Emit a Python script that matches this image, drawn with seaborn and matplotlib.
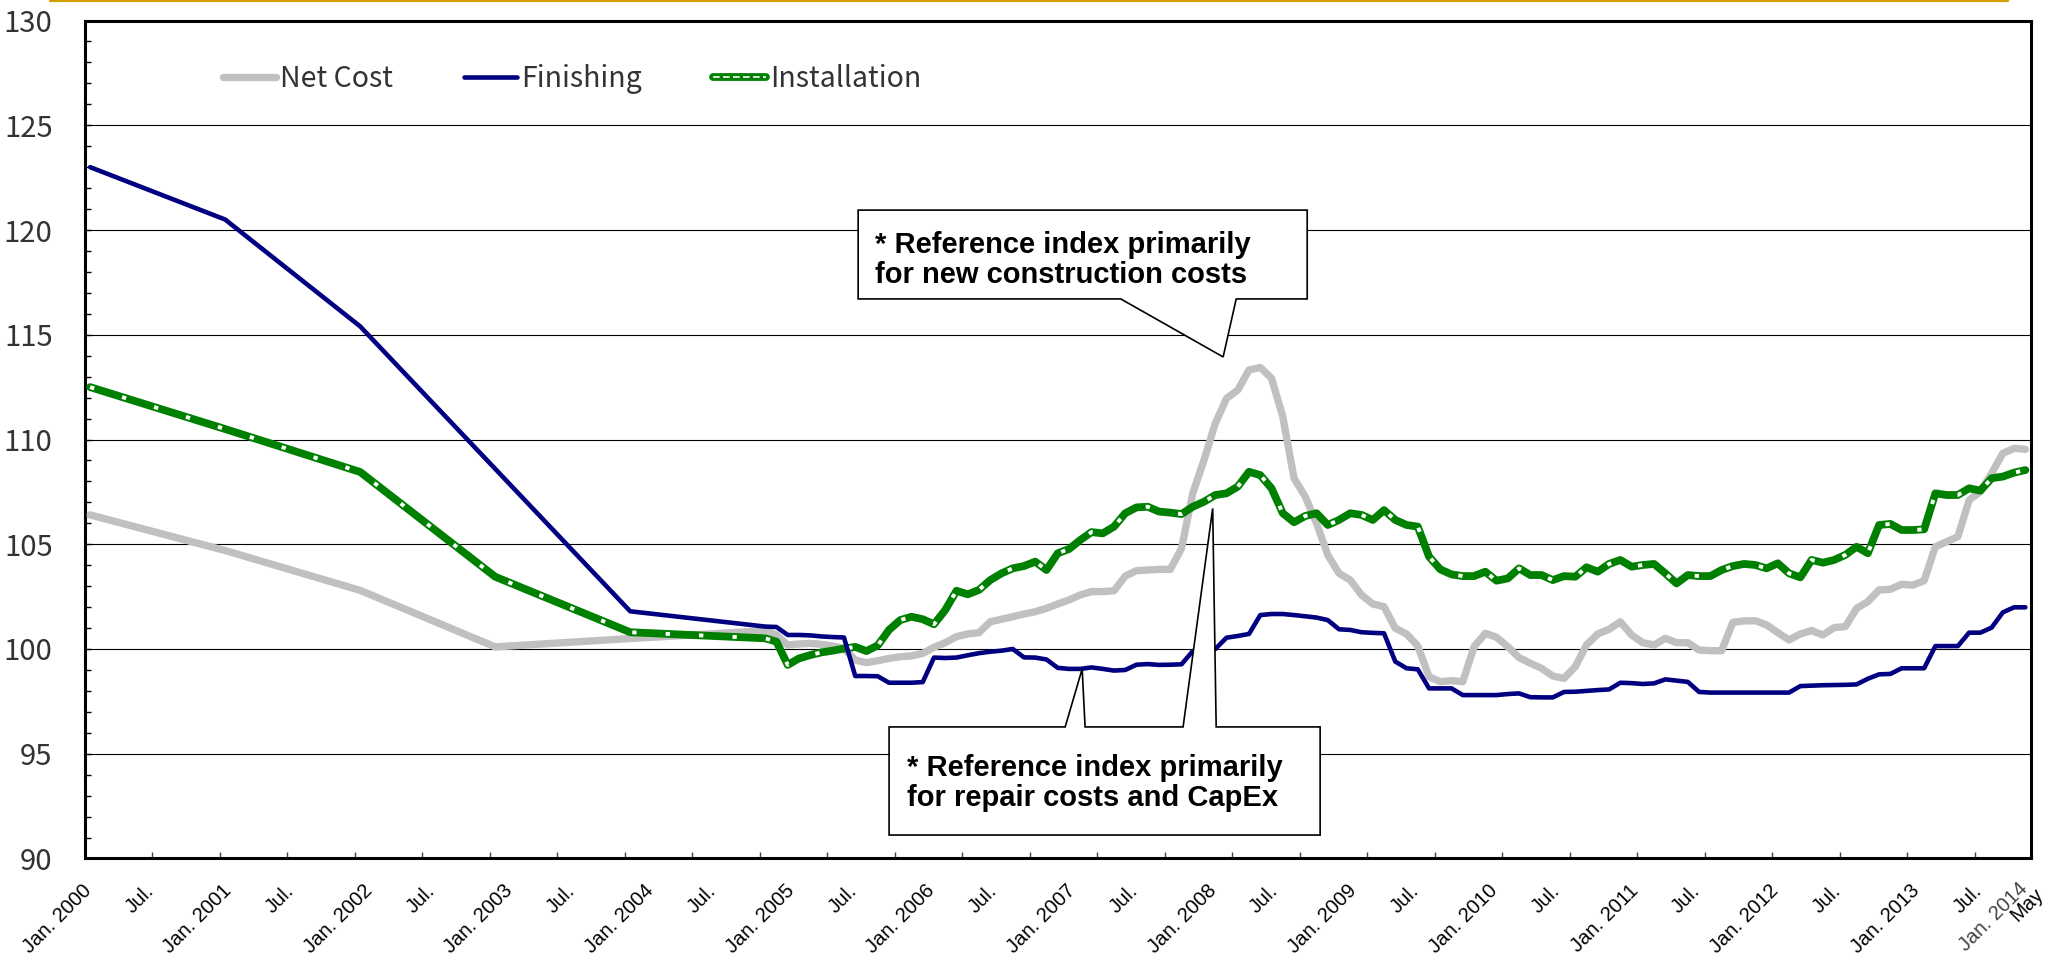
import numpy as np
import pandas as pd
import matplotlib
matplotlib.use("Agg")
import matplotlib.pyplot as plt
import seaborn as sns
from matplotlib.lines import Line2D
from matplotlib.patches import Polygon
from matplotlib.transforms import ScaledTranslation
from matplotlib.ticker import MultipleLocator
from matplotlib.font_manager import FontProperties
from matplotlib.legend_handler import HandlerTuple

# ---------------------------------------------------------------- data
# January readings, 2000-2004 (annual series)
annual_years = [2000, 2001, 2002, 2003, 2004]
annual_net = [106.4, 104.7, 102.8, 100.1, 100.5]
annual_fin = [123.0, 120.5, 115.4, 108.6, 101.8]
annual_inst = [112.5, 110.5, 108.45, 103.45, 100.8]

# monthly readings, Jan 2005 - May 2014
monthly_start = "2005-01"
monthly_net = [
    100.87, 100.67, 100.19, 100.24, 100.27, 100.22, 100.14, 100.03, 99.47, 99.35, 99.44, 99.55,
    99.63, 99.67, 99.79, 100.08, 100.30, 100.59, 100.72, 100.78, 101.30, 101.42, 101.54, 101.67,
    101.78, 101.94, 102.15, 102.34, 102.58, 102.74, 102.74, 102.78, 103.48, 103.74, 103.77, 103.80,
    103.80, 104.80, 107.43, 109.02, 110.77, 111.96, 112.36, 113.32, 113.44, 112.92, 111.09, 108.15,
    107.27, 106.00, 104.49, 103.61, 103.29, 102.58, 102.15, 102.02, 100.99, 100.72, 100.14, 98.68,
    98.44, 98.49, 98.44, 100.11, 100.75, 100.56, 100.11, 99.59, 99.32, 99.08, 98.71, 98.60,
    99.16, 100.20, 100.72, 100.94, 101.30, 100.67, 100.30, 100.19, 100.51, 100.30, 100.30, 99.95,
    99.92, 99.92, 101.27, 101.34, 101.35, 101.15, 100.78, 100.43, 100.72, 100.88, 100.67, 101.02,
    101.07, 101.94, 102.26, 102.82, 102.85, 103.09, 103.05, 103.26, 104.88, 105.12, 105.36, 107.11,
    107.51, 108.39, 109.34, 109.58, 109.53,
]
monthly_fin = [
    101.07, 101.05, 100.67, 100.67, 100.65, 100.60, 100.57, 100.55, 98.71, 98.71, 98.70, 98.39,
    98.39, 98.39, 98.42, 99.59, 99.57, 99.59, 99.70, 99.80, 99.87, 99.92, 100.00, 99.60,
    99.59, 99.50, 99.10, 99.05, 99.05, 99.12, 99.05, 98.97, 99.00, 99.25, 99.28, 99.24,
    99.25, 99.27, 99.90, 100.00, 100.00, 100.54, 100.62, 100.72, 101.62, 101.67, 101.67, 101.62,
    101.56, 101.50, 101.38, 100.94, 100.91, 100.80, 100.77, 100.75, 99.40, 99.08, 99.03, 98.12,
    98.12, 98.12, 97.80, 97.80, 97.80, 97.80, 97.85, 97.88, 97.70, 97.69, 97.69, 97.95,
    97.96, 98.00, 98.04, 98.07, 98.39, 98.37, 98.33, 98.36, 98.55, 98.49, 98.43, 97.95,
    97.92, 97.92, 97.92, 97.92, 97.92, 97.92, 97.92, 97.92, 98.23, 98.25, 98.27, 98.28,
    98.29, 98.31, 98.58, 98.79, 98.81, 99.08, 99.08, 99.08, 100.14, 100.14, 100.14, 100.78,
    100.78, 101.02, 101.75, 101.99, 101.99,
]
monthly_inst = [
    100.51, 100.35, 99.24, 99.55, 99.71, 99.84, 99.92, 100.02, 100.10, 99.90, 100.17, 100.91,
    101.38, 101.54, 101.42, 101.18, 101.86, 102.78, 102.61, 102.82, 103.29, 103.61, 103.85, 103.96,
    104.17, 103.77, 104.57, 104.77, 105.20, 105.58, 105.52, 105.84, 106.48, 106.76, 106.79, 106.56,
    106.51, 106.44, 106.79, 107.03, 107.35, 107.43, 107.75, 108.46, 108.30, 107.67, 106.48, 106.05,
    106.35, 106.48, 105.92, 106.16, 106.48, 106.40, 106.16, 106.63, 106.16, 105.92, 105.84, 104.41,
    103.80, 103.56, 103.48, 103.48, 103.69, 103.26, 103.37, 103.85, 103.53, 103.53, 103.29, 103.48,
    103.45, 103.90, 103.69, 104.06, 104.25, 103.93, 104.01, 104.06, 103.61, 103.13, 103.53, 103.48,
    103.48, 103.77, 103.96, 104.06, 104.01, 103.85, 104.09, 103.61, 103.42, 104.25, 104.12, 104.25,
    104.49, 104.88, 104.57, 105.92, 105.97, 105.68, 105.68, 105.71, 107.43, 107.35, 107.35, 107.67,
    107.56, 108.15, 108.23, 108.42, 108.54,
]

series_names = ["Net Cost", "Finishing", "Installation"]

# ---------------------------------------------------------------- frame
dates = list(pd.to_datetime([f"{y}-01-01" for y in annual_years])) + \
    list(pd.date_range(monthly_start, periods=len(monthly_net), freq="MS"))
df = pd.DataFrame({
    "date": dates,
    "Net Cost": annual_net + monthly_net,
    "Finishing": annual_fin + monthly_fin,
    "Installation": annual_inst + monthly_inst,
})
# month slots counted from Jan 2000; each value sits in the middle of its slot
df["slot"] = (df["date"].dt.year - 2000) * 12 + df["date"].dt.month - 1 + 0.5

# ---------------------------------------------------------------- style
sns.set_style("white")
plt.rcParams["font.family"] = ["Liberation Sans", "DejaVu Sans"]

GRAY = "#C0C0C0"
NAVY = "#000080"
GREEN = "#008000"
gothic_y = FontProperties(family=["Noto Sans CJK JP", "DejaVu Sans"], size=21)
gothic_leg = FontProperties(family=["Noto Sans CJK JP", "DejaVu Sans"], size=20.5)

fig = plt.figure(figsize=(20.55, 9.55), dpi=100)
ax = fig.add_axes([0.04112, 0.10105, 0.94720, 0.87748])

sns.lineplot(data=df, x="slot", y="Net Cost", ax=ax, color=GRAY, linewidth=5.3,
             solid_capstyle="round", solid_joinstyle="round", zorder=3)
sns.lineplot(data=df, x="slot", y="Finishing", ax=ax, color=NAVY, linewidth=3.3,
             solid_capstyle="round", solid_joinstyle="round", zorder=4)
sns.lineplot(data=df, x="slot", y="Installation", ax=ax, color=GREEN, linewidth=5.6,
             solid_capstyle="round", solid_joinstyle="round", zorder=3.5)
sns.lineplot(data=df, x="slot", y="Installation", ax=ax, color="white", linewidth=2.8,
             linestyle=(0, (1.1, 7.5)), zorder=3.6)

ax.set_xlim(0, 173)
ax.set_ylim(90, 130)
ax.set_xlabel("")
ax.set_ylabel("")

# y axis
ax.set_yticks(np.arange(90, 131, 5))
ax.yaxis.set_minor_locator(MultipleLocator(1))
ax.tick_params(axis="y", which="both", direction="in", length=4.5, width=1,
               color="black", pad=23, left=True, right=False)
for lab in ax.get_yticklabels():
    lab.set_fontproperties(gothic_y)
    lab.set_color("#333333")
ax.grid(axis="y", which="major", color="black", linewidth=0.8)
ax.set_axisbelow(True)

# x axis: half-year ticks, labels drawn separately along the label row
tick_slots = np.arange(0, 169, 6)
ax.set_xticks(tick_slots)
ax.set_xticklabels([])
ax.tick_params(axis="x", which="major", direction="in", length=4, width=1,
               color="#444444", bottom=True)

for side in ["left", "right", "top", "bottom"]:
    ax.spines[side].set_visible(True)
    ax.spines[side].set_color("black")
    ax.spines[side].set_linewidth(2.2)

XLAB_SIZE = 14.5


def row_transform(drop_in):
    return ax.get_xaxis_transform() + ScaledTranslation(0, -drop_in, fig.dpi_scale_trans)


label_row = row_transform(0.335)
for k, s in enumerate(tick_slots[:-1]):
    if s % 12 == 0:
        text, pos = f"Jan. {2000 + s // 12}", 0.67 + 6.249 * k
    else:
        text, pos = "Jul.", 0.67 + 6.249 * k - 0.71
    ax.text(pos, 0, text, transform=label_row, rotation=45, rotation_mode="anchor",
            ha="right", va="baseline", fontsize=XLAB_SIZE, color="black", clip_on=False)
ax.text(172.76, 0, "Jan. 2014", transform=row_transform(0.315), rotation=45,
        rotation_mode="anchor", ha="right", va="baseline", fontsize=XLAB_SIZE,
        color="#444444", clip_on=False)
ax.text(174.2, 0, "May", transform=row_transform(0.365), rotation=45,
        rotation_mode="anchor", ha="right", va="baseline", fontsize=XLAB_SIZE,
        color="black", clip_on=False)

# legend
h_net = Line2D([], [], color=GRAY, linewidth=5.3, solid_capstyle="round")
h_fin = Line2D([], [], color=NAVY, linewidth=3.3, solid_capstyle="round")
h_inst = (Line2D([], [], color=GREEN, linewidth=5.6, solid_capstyle="round"),
          Line2D([], [], color="white", linewidth=1.2, linestyle=(0, (4, 2))))
leg = ax.legend([h_net, h_fin, h_inst], series_names, loc="center left",
                bbox_to_anchor=(0.0712, 0.930), ncol=3, frameon=False,
                prop=gothic_leg, handlelength=1.85, handletextpad=0.15,
                columnspacing=2.5, borderpad=0, borderaxespad=0,
                handler_map={tuple: HandlerTuple(ndivide=1)})
for t in leg.get_texts():
    t.set_color("#333333")

# callouts
bold = dict(fontsize=21, fontweight="bold", color="black", linespacing=1.1,
            va="center", ha="left", zorder=11)
callout_new = [(68.76, 120.95), (108.67, 120.95), (108.67, 116.71), (102.36, 116.71),
               (101.2, 113.94), (92.1, 116.71), (68.76, 116.71)]
ax.add_patch(Polygon(callout_new, closed=True, facecolor="white", edgecolor="black",
                     linewidth=1.2, zorder=10, clip_on=False))
ax.text(70.27, 118.57, "* Reference index primarily\nfor new construction costs", **bold)

callout_repair = [(71.51, 91.12), (109.82, 91.12), (109.82, 96.28), (100.58, 96.28),
                  (100.27, 106.71), (97.64, 96.28), (88.93, 96.28), (88.67, 99.05),
                  (87.16, 96.28), (71.51, 96.28)]
ax.add_patch(Polygon(callout_repair, closed=True, facecolor="white", edgecolor="black",
                     linewidth=1.2, zorder=10, clip_on=False))
ax.text(73.11, 93.6, "* Reference index primarily\nfor repair costs and CapEx", **bold)

# rule across the top of the page
fig.add_artist(Line2D([50 / 2055, 2008 / 2055], [0.9985, 0.9985], color="#D4A000",
                      linewidth=1.6, transform=fig.transFigure))

fig.savefig("out.png", dpi=100, facecolor="white")
